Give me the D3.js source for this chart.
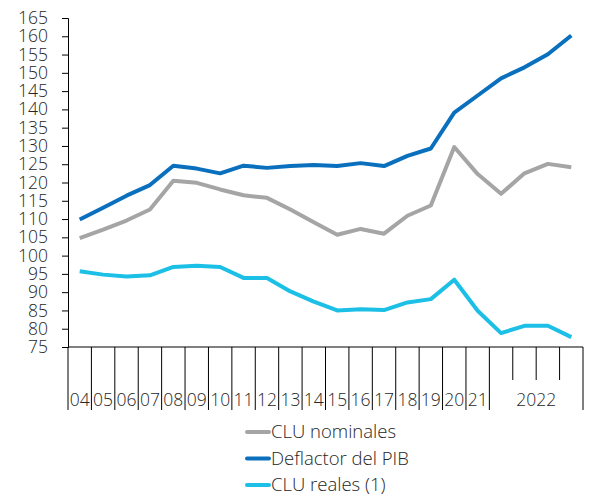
<!DOCTYPE html>
<html>
<head>
<meta charset="utf-8">
<script src="https://cdn.jsdelivr.net/npm/d3@7"></script>
<style>
    body { margin: 0; background: #fff; }
    svg text { font-family: "Open Sans", Lato, sans-serif; font-weight: 300; fill: #262626; }
</style>
</head>
<body>
<div id="chart"></div>
<script>
"use strict";

// categories: years 2004-2021, then the four quarters of 2022
const categories = ["04", "05", "06", "07", "08", "09", "10", "11", "12", "13", "14", "15", "16", "17", "18", "19", "20", "21",
    "22T1", "22T2", "22T3", "22T4"];
const yearLabels = ["04", "05", "06", "07", "08", "09", "10", "11", "12", "13", "14", "15", "16", "17", "18", "19", "20", "21"];
const groupLabel = "2022";

const cluNominales = [104.8, 107.1, 109.6, 112.6, 120.5, 119.9, 118.1, 116.5, 115.8, 112.6, 109.1, 105.7, 107.3, 106.0, 110.9, 113.7, 129.7, 122.3, 116.9, 122.5, 125.1, 124.2];
const deflactorPib = [109.9, 113.1, 116.4, 119.3, 124.6, 123.8, 122.5, 124.6, 124.0, 124.5, 124.8, 124.5, 125.3, 124.5, 127.3, 129.3, 139.1, 143.8, 148.5, 151.5, 155.1, 160.2];
const cluReales = [95.7, 94.8, 94.3, 94.6, 96.9, 97.2, 96.9, 93.9, 93.9, 90.2, 87.4, 85.0, 85.3, 85.1, 87.2, 88.1, 93.4, 84.9, 78.8, 80.8, 80.8, 77.7];

const yTicks = d3.range(75, 166, 5);

const series = [
    { name: "CLU nominales", values: cluNominales, color: "#A5A5A5" },
    { name: "Deflactor del PIB", values: deflactorPib, color: "#0A70BE" },
    { name: "CLU reales (1)", values: cluReales, color: "#1CBFE6" }
];

(function () {
    const width = 591;
    const height = 496;
    const left = 68, right = 583, plotTop = 18, bottom = 347;

    const svg = d3.select("#chart").append("svg")
        .attr("width", width)
        .attr("height", height);

    const x = d3.scaleBand().domain(categories).range([left, right]).paddingInner(0).paddingOuter(0);
    const y = d3.scaleLinear().domain([75, 165]).range([bottom, plotTop]);

    // y axis
    const yAxis = svg.append("g")
        .attr("transform", `translate(${left},0)`)
        .call(d3.axisLeft(y).tickValues(yTicks).tickSize(6).tickPadding(14).tickFormat(d3.format("d")));
    yAxis.select(".domain").attr("stroke", "#000");
    yAxis.selectAll(".tick line").attr("stroke", "#000");
    yAxis.selectAll("text").attr("font-size", 17.5).attr("font-family", null);

    // x axis line
    svg.append("line")
        .attr("x1", left).attr("x2", right)
        .attr("y1", bottom).attr("y2", bottom)
        .attr("stroke", "#000");

    // category boundary ticks, short ones inside the 2022 group
    const boundaries = d3.range(categories.length + 1);
    svg.append("g").selectAll("line")
        .data(boundaries)
        .join("line")
        .attr("x1", i => left + i * x.step())
        .attr("x2", i => left + i * x.step())
        .attr("y1", bottom)
        .attr("y2", i => (i > yearLabels.length && i < categories.length) ? 380 : 410)
        .attr("stroke", "#000");

    // year labels
    svg.append("g").selectAll("text")
        .data(yearLabels)
        .join("text")
        .attr("x", d => x(d) + x.bandwidth() / 2)
        .attr("y", 406)
        .attr("text-anchor", "middle")
        .attr("font-size", 17.5)
        .text(d => d);

    const q = categories.slice(yearLabels.length);
    svg.append("text")
        .attr("x", (x(q[0]) + x(q[q.length - 1]) + x.bandwidth()) / 2)
        .attr("y", 406)
        .attr("text-anchor", "middle")
        .attr("font-size", 17.5)
        .text(groupLabel);

    // lines
    const line = d3.line()
        .x((d, i) => x(categories[i]) + x.bandwidth() / 2)
        .y(d => y(d));

    svg.append("g").selectAll("path")
        .data(series)
        .join("path")
        .attr("d", s => line(s.values))
        .attr("fill", "none")
        .attr("stroke", s => s.color)
        .attr("stroke-width", 4)
        .attr("stroke-linejoin", "round");

    // legend
    const legend = svg.append("g").selectAll("g")
        .data(series)
        .join("g")
        .attr("transform", (s, i) => `translate(247,${432 + i * 26.5})`);
    legend.append("line")
        .attr("x1", 0).attr("x2", 22)
        .attr("stroke", s => s.color)
        .attr("stroke-width", 4)
        .attr("stroke-linecap", "round");
    legend.append("text")
        .attr("x", 24)
        .attr("dy", "0.35em")
        .attr("font-size", 18.5)
        .text(s => s.name);
})();
</script>
</body>
</html>
